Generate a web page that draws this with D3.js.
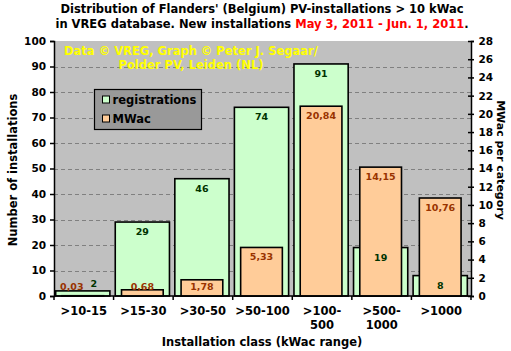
<!DOCTYPE html>
<html>
<head>
<meta charset="utf-8">
<script src="https://cdn.jsdelivr.net/npm/d3@7"></script>
<style>
  body { margin: 0; background: #fff; }
  svg text { font-family: Verdana, "DejaVu Sans", sans-serif; font-weight: bold; }
</style>
</head>
<body>
<div class="chart"></div>
<script>
const width = 511;
const height = 351;
const margin = { top: 41, right: 40, bottom: 55, left: 54 };

// Data
const categories = [">10-15", ">15-30", ">30-50", ">50-100", ">100-500", ">500-1000", ">1000"];
const categoryLines = [[">10-15"], [">15-30"], [">30-50"], [">50-100"], [">100-", "500"], [">500-", "1000"], [">1000"]];
const registrations = [2, 29, 46, 74, 91, 19, 8];
const mwac = [0.03, 0.68, 1.78, 5.33, 20.84, 14.15, 10.76];
const leftTicks = d3.range(0, 101, 10);
const rightTicks = d3.range(0, 29, 2);

const dataset = categories.map((c, i) => ({ cat: c, reg: registrations[i], mw: mwac[i] }));
const commaFmt = v => d3.format(".2f")(v).replace(".", ",");

const svg = d3.select(".chart").append("svg")
    .attr("width", width)
    .attr("height", height);

const x0 = margin.left, x1 = width - margin.right, y0 = height - margin.bottom, y1 = margin.top;

// Scales
const xScale = d3.scaleBand().domain(categories).range([x0, x1]);
const yScale = d3.scaleLinear().domain([0, 100]).range([y0, y1]);
const y2Scale = d3.scaleLinear().domain([0, 28]).range([y0, y1]);

// Title
const title = svg.append("text").attr("text-anchor", "middle").style("font-size", "11.5px");
title.append("tspan").attr("x", 262).attr("y", 13)
    .text("Distribution of Flanders' (Belgium) PV-installations > 10 kWac");
const t2 = title.append("tspan").attr("x", 262).attr("y", 28);
t2.append("tspan").text("in VREG database. New installations ");
t2.append("tspan").attr("fill", "#ff0000").text("May 3, 2011 - Jun. 1, 2011");
t2.append("tspan").text(".");

// Plot background
svg.append("rect")
    .attr("x", x0).attr("y", y1)
    .attr("width", x1 - x0).attr("height", y0 - y1)
    .attr("fill", "#c0c0c0");

// Gridlines
svg.append("g").selectAll("line")
    .data(leftTicks.filter(d => d > 0 && d < 100))
    .join("line")
    .attr("x1", x0).attr("x2", x1)
    .attr("y1", d => Math.round(yScale(d)) + 0.5)
    .attr("y2", d => Math.round(yScale(d)) + 0.5)
    .attr("stroke", "#808080")
    .attr("stroke-dasharray", "4,3");

// Registration bars (primary axis)
const gw = xScale.bandwidth() * 0.91;
const ow = xScale.bandwidth() * 0.70;
const cx = d => xScale(d.cat) + xScale.bandwidth() / 2 - 1;

svg.append("g").selectAll("rect")
    .data(dataset)
    .join("rect")
    .attr("x", d => cx(d) - gw / 2)
    .attr("y", d => yScale(d.reg))
    .attr("width", gw)
    .attr("height", d => y0 - yScale(d.reg))
    .attr("fill", "#ccffcc")
    .attr("stroke", "#000")
    .attr("stroke-width", 1.6);

// MWac bars (secondary axis)
svg.append("g").selectAll("rect")
    .data(dataset)
    .join("rect")
    .attr("x", d => cx(d) - ow / 2)
    .attr("y", d => y2Scale(d.mw))
    .attr("width", ow)
    .attr("height", d => y0 - y2Scale(d.mw))
    .attr("fill", "#ffcc99")
    .attr("stroke", "#000")
    .attr("stroke-width", 1.6);

// Data labels
const labelY = top => Math.min(top + 13, y0 - 6.5);
dataset.forEach(d => {
    const gy = labelY(yScale(d.reg));
    const oy = labelY(y2Scale(d.mw));
    const shift = Math.abs(gy - oy) < 10 ? 11 : 0;
    svg.append("text")
        .attr("x", cx(d) - shift).attr("y", oy)
        .attr("text-anchor", "middle")
        .attr("fill", "#993300")
        .style("font-size", "9.5px")
        .text(commaFmt(d.mw));
    svg.append("text")
        .attr("x", cx(d) + shift).attr("y", gy - (shift ? 3 : 0))
        .attr("text-anchor", "middle")
        .attr("fill", "#003300")
        .style("font-size", "9.5px")
        .text(d.reg);
});

// Left axis
const yAxis = d3.axisLeft(yScale).tickValues(leftTicks).tickSize(4).tickPadding(4);
const gl = svg.append("g").attr("transform", `translate(${x0}, 0)`).call(yAxis);
gl.selectAll("text").style("font-size", "10.5px").attr("fill", "#000");

// Right axis with crossing ticks
const y2Axis = d3.axisRight(y2Scale).tickValues(rightTicks).tickSize(3).tickPadding(4.5);
const gr = svg.append("g").attr("transform", `translate(${x1}, 0)`).call(y2Axis);
gr.selectAll(".tick").append("line").attr("x1", -3).attr("x2", 0).attr("stroke", "#000");
gr.selectAll("text").style("font-size", "10.5px").attr("fill", "#000");

svg.selectAll(".domain").attr("stroke", "#000").attr("stroke-width", 1.5);
svg.selectAll(".tick line").attr("stroke", "#000").attr("stroke-width", 1.5);

// Bottom axis
svg.append("line")
    .attr("x1", x0).attr("x2", x1)
    .attr("y1", y0).attr("y2", y0)
    .attr("stroke", "#000").attr("stroke-width", 1.5);
const bounds = categories.map(c => xScale(c)).concat([x1]);
svg.append("g").selectAll("line")
    .data(bounds)
    .join("line")
    .attr("x1", d => d).attr("x2", d => d)
    .attr("y1", y0).attr("y2", y0 + 4)
    .attr("stroke", "#000").attr("stroke-width", 1.5);

svg.append("g").selectAll("text")
    .data(categories)
    .join("text")
    .attr("text-anchor", "middle")
    .style("font-size", "11.5px")
    .each(function(c, i) {
        d3.select(this).selectAll("tspan")
            .data(categoryLines[i])
            .join("tspan")
            .attr("x", xScale(c) + xScale.bandwidth() / 2)
            .attr("y", (t, j) => y0 + 19 + j * 13.5)
            .text(t => t);
    });

// Axis titles
svg.append("text")
    .attr("x", 262).attr("y", 346)
    .attr("text-anchor", "middle")
    .style("font-size", "11.5px")
    .text("Installation class (kWac range)");

svg.append("text")
    .attr("transform", "translate(17, 170) rotate(-90)")
    .attr("text-anchor", "middle")
    .style("font-size", "11.5px")
    .text("Number of installations");

svg.append("text")
    .attr("transform", "translate(497, 160) rotate(90)")
    .attr("text-anchor", "middle")
    .style("font-size", "11px")
    .text("MWac per category");

// Copyright note
const note = svg.append("text").attr("text-anchor", "middle").attr("fill", "#ffff00").style("font-size", "11.5px");
note.append("tspan").attr("x", 191).attr("y", 55).text("Data \u00a9 VREG, Graph \u00a9 Peter J. Segaar/");
note.append("tspan").attr("x", 191).attr("y", 69).text("Polder PV, Leiden (NL)");

// Legend
const legend = svg.append("g").attr("transform", "translate(94.5, 89.5)");
legend.append("rect")
    .attr("width", 107).attr("height", 40)
    .attr("fill", "#999999").attr("stroke", "#000").attr("stroke-width", 1.2);
const legendItems = [["registrations", "#ccffcc"], ["MWac", "#ffcc99"]];
legendItems.forEach(([name, color], i) => {
    legend.append("rect")
        .attr("x", 8).attr("y", 6.5 + i * 19)
        .attr("width", 7).attr("height", 7)
        .attr("fill", color).attr("stroke", "#000");
    legend.append("text")
        .attr("x", 18).attr("y", 14 + i * 19)
        .style("font-size", "11.5px")
        .attr("fill", "#000")
        .text(name);
});
</script>
</body>
</html>
